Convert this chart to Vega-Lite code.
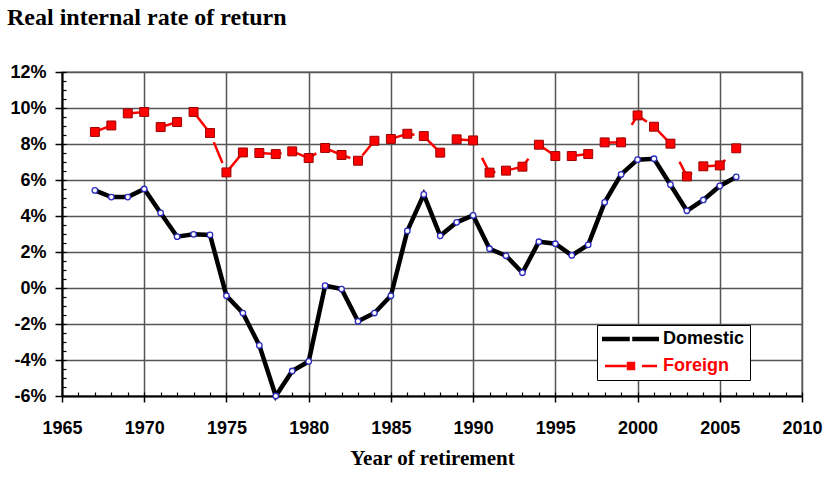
{
  "$schema": "https://vega.github.io/schema/vega-lite/v6.json",
  "width": 740,
  "height": 324,
  "autosize": {"type": "none"},
  "padding": {"left": 62, "top": 72, "right": 33, "bottom": 88},
  "background": "white",
  "title": {"text": "Real internal rate of return", "anchor": "start", "frame": "group", "dx": -55, "offset": 33, "font": "Liberation Serif", "fontSize": 24, "fontWeight": "bold", "color": "black"},
  "config": {"view": {"stroke": "#8c8c8c", "strokeWidth": 1.5}},
  "data": {"values": [
    {"year": 1967, "series": "Domestic", "value": 5.42},
    {"year": 1968, "series": "Domestic", "value": 5.05},
    {"year": 1969, "series": "Domestic", "value": 5.05},
    {"year": 1970, "series": "Domestic", "value": 5.50},
    {"year": 1971, "series": "Domestic", "value": 4.17},
    {"year": 1972, "series": "Domestic", "value": 2.85},
    {"year": 1973, "series": "Domestic", "value": 2.98},
    {"year": 1974, "series": "Domestic", "value": 2.95},
    {"year": 1975, "series": "Domestic", "value": -0.43},
    {"year": 1976, "series": "Domestic", "value": -1.39},
    {"year": 1977, "series": "Domestic", "value": -3.19},
    {"year": 1978, "series": "Domestic", "value": -6.0},
    {"year": 1979, "series": "Domestic", "value": -4.61},
    {"year": 1980, "series": "Domestic", "value": -4.08},
    {"year": 1981, "series": "Domestic", "value": 0.13},
    {"year": 1982, "series": "Domestic", "value": -0.06},
    {"year": 1983, "series": "Domestic", "value": -1.85},
    {"year": 1984, "series": "Domestic", "value": -1.39},
    {"year": 1985, "series": "Domestic", "value": -0.43},
    {"year": 1986, "series": "Domestic", "value": 3.17},
    {"year": 1987, "series": "Domestic", "value": 5.20},
    {"year": 1988, "series": "Domestic", "value": 2.90},
    {"year": 1989, "series": "Domestic", "value": 3.65},
    {"year": 1990, "series": "Domestic", "value": 4.03},
    {"year": 1991, "series": "Domestic", "value": 2.18},
    {"year": 1992, "series": "Domestic", "value": 1.79},
    {"year": 1993, "series": "Domestic", "value": 0.85},
    {"year": 1994, "series": "Domestic", "value": 2.57},
    {"year": 1995, "series": "Domestic", "value": 2.46},
    {"year": 1996, "series": "Domestic", "value": 1.81},
    {"year": 1997, "series": "Domestic", "value": 2.40},
    {"year": 1998, "series": "Domestic", "value": 4.76},
    {"year": 1999, "series": "Domestic", "value": 6.31},
    {"year": 2000, "series": "Domestic", "value": 7.13},
    {"year": 2001, "series": "Domestic", "value": 7.18},
    {"year": 2002, "series": "Domestic", "value": 5.74},
    {"year": 2003, "series": "Domestic", "value": 4.29},
    {"year": 2004, "series": "Domestic", "value": 4.89},
    {"year": 2005, "series": "Domestic", "value": 5.67},
    {"year": 2006, "series": "Domestic", "value": 6.17},
    {"year": 1967, "series": "Foreign", "value": 8.67},
    {"year": 1968, "series": "Foreign", "value": 9.03},
    {"year": 1969, "series": "Foreign", "value": 9.70},
    {"year": 1970, "series": "Foreign", "value": 9.78},
    {"year": 1971, "series": "Foreign", "value": 8.94},
    {"year": 1972, "series": "Foreign", "value": 9.22},
    {"year": 1973, "series": "Foreign", "value": 9.78},
    {"year": 1974, "series": "Foreign", "value": 8.61},
    {"year": 1975, "series": "Foreign", "value": 6.42},
    {"year": 1976, "series": "Foreign", "value": 7.53},
    {"year": 1977, "series": "Foreign", "value": 7.50},
    {"year": 1978, "series": "Foreign", "value": 7.44},
    {"year": 1979, "series": "Foreign", "value": 7.59},
    {"year": 1980, "series": "Foreign", "value": 7.22},
    {"year": 1981, "series": "Foreign", "value": 7.78},
    {"year": 1982, "series": "Foreign", "value": 7.39},
    {"year": 1983, "series": "Foreign", "value": 7.07},
    {"year": 1984, "series": "Foreign", "value": 8.18},
    {"year": 1985, "series": "Foreign", "value": 8.28},
    {"year": 1986, "series": "Foreign", "value": 8.57},
    {"year": 1987, "series": "Foreign", "value": 8.44},
    {"year": 1988, "series": "Foreign", "value": 7.52},
    {"year": 1989, "series": "Foreign", "value": 8.26},
    {"year": 1990, "series": "Foreign", "value": 8.20},
    {"year": 1991, "series": "Foreign", "value": 6.41},
    {"year": 1992, "series": "Foreign", "value": 6.52},
    {"year": 1993, "series": "Foreign", "value": 6.74},
    {"year": 1994, "series": "Foreign", "value": 7.96},
    {"year": 1995, "series": "Foreign", "value": 7.33},
    {"year": 1996, "series": "Foreign", "value": 7.33},
    {"year": 1997, "series": "Foreign", "value": 7.44},
    {"year": 1998, "series": "Foreign", "value": 8.09},
    {"year": 1999, "series": "Foreign", "value": 8.09},
    {"year": 2000, "series": "Foreign", "value": 9.59},
    {"year": 2001, "series": "Foreign", "value": 8.96},
    {"year": 2002, "series": "Foreign", "value": 8.02},
    {"year": 2003, "series": "Foreign", "value": 6.20},
    {"year": 2004, "series": "Foreign", "value": 6.76},
    {"year": 2005, "series": "Foreign", "value": 6.81},
    {"year": 2006, "series": "Foreign", "value": 7.76}
  ]},
  "layer": [
    {
      "transform": [{"filter": "datum.series === 'Domestic'"}],
      "mark": {"type": "line", "color": "black", "strokeWidth": 4.5, "strokeJoin": "miter"},
      "encoding": {
        "x": {"field": "year", "type": "quantitative",
          "scale": {"domain": [1965, 2010], "nice": false, "zero": false},
          "axis": {"orient": "bottom", "values": [1965, 1970, 1975, 1980, 1985, 1990, 1995, 2000, 2005, 2010], "format": "d",
            "title": "Year of retirement", "grid": true, "gridColor": "#555555", "gridWidth": 1.5,
            "tickSize": 6, "tickColor": "black", "tickWidth": 1.5, "domainColor": "black", "domainWidth": 2,
            "labelFont": "Liberation Sans", "labelFontSize": 18, "labelFontWeight": "bold", "labelColor": "black",
            "labelPadding": 17, "labelFlush": false, "labelOverlap": false,
            "titleFont": "Liberation Serif", "titleFontSize": 21, "titleFontWeight": "bold", "titleColor": "black", "titlePadding": 10}},
        "y": {"field": "value", "type": "quantitative",
          "scale": {"domain": [-6, 12], "nice": false, "zero": false},
          "axis": {"orient": "left", "values": [-6, -4, -2, 0, 2, 4, 6, 8, 10, 12], "labelExpr": "datum.value + '%'",
            "title": null, "grid": true, "gridColor": "#555555", "gridWidth": 1.5,
            "tickSize": 7, "tickColor": "black", "tickWidth": 1.5, "domainColor": "black", "domainWidth": 2,
            "labelFont": "Liberation Sans", "labelFontSize": 18, "labelFontWeight": "bold", "labelColor": "black",
            "labelPadding": 9, "labelFlush": false, "labelOverlap": false}}
      }
    },
    {
      "transform": [{"filter": "datum.series === 'Foreign'"}],
      "mark": {"type": "line", "color": "#ff0000", "strokeWidth": 2.5, "strokeDash": [22.5, 15]},
      "encoding": {
        "x": {"field": "year", "type": "quantitative", "axis": null},
        "y": {"field": "value", "type": "quantitative", "axis": null}
      }
    },
    {
      "transform": [{"filter": "datum.series === 'Domestic'"}],
      "mark": {"type": "point", "shape": "circle", "filled": true, "fill": "white", "stroke": "#2b2bc0", "strokeWidth": 1.3, "size": 30, "opacity": 1},
      "encoding": {
        "x": {"field": "year", "type": "quantitative",
          "axis": {"orient": "bottom", "values": [1965,1966,1967,1968,1969,1970,1971,1972,1973,1974,1975,1976,1977,1978,1979,1980,1981,1982,1983,1984,1985,1986,1987,1988,1989,1990,1991,1992,1993,1994,1995,1996,1997,1998,1999,2000,2001,2002,2003,2004,2005,2006,2007,2008,2009,2010],
            "labels": false, "grid": false, "domain": false, "tickSize": -4, "tickColor": "black", "tickWidth": 1.2, "title": null}},
        "y": {"field": "value", "type": "quantitative",
          "axis": {"orient": "left", "values": [-6,-5.5,-5,-4.5,-4,-3.5,-3,-2.5,-2,-1.5,-1,-0.5,0,0.5,1,1.5,2,2.5,3,3.5,4,4.5,5,5.5,6,6.5,7,7.5,8,8.5,9,9.5,10,10.5,11,11.5,12],
            "labels": false, "grid": false, "domain": false, "tickSize": -4, "tickColor": "black", "tickWidth": 1.2, "title": null}}
      }
    },
    {
      "transform": [{"filter": "datum.series === 'Foreign'"}],
      "mark": {"type": "point", "shape": "square", "filled": true, "fill": "#ff0000", "stroke": "#9a0000", "strokeWidth": 1, "size": 80, "opacity": 1},
      "encoding": {
        "x": {"field": "year", "type": "quantitative", "axis": null},
        "y": {"field": "value", "type": "quantitative", "axis": null}
      }
    },
    {
      "mark": {"type": "point", "filled": true, "opacity": 0},
      "encoding": {
        "x": {"field": "year", "type": "quantitative", "axis": null},
        "y": {"field": "value", "type": "quantitative", "axis": null},
        "fill": {"field": "series", "type": "nominal",
          "scale": {"domain": ["Domestic", "Foreign"], "range": ["white", "#ff0000"]},
          "legend": {"title": null, "orient": "none", "legendX": 535, "legendY": 253, "strokeColor": "black", "fillColor": "white", "padding": 5,
            "symbolSize": 100, "symbolStrokeWidth": 3, "symbolOffset": 20, "labelOffset": 23, "rowPadding": 9, "symbolOpacity": 1,
            "labelFont": "Liberation Sans", "labelFontSize": 18, "labelFontWeight": "bold", "labelColor": "black",
            "encode": {"labels": {"update": {"fill": {"signal": "datum.label === 'Foreign' ? '#ff0000' : '#000000'"}}},
                       "symbols": {"update": {"strokeWidth": {"signal": "datum.label === 'Foreign' ? 2.5 : 4.5"}}}}}},
        "stroke": {"field": "series", "type": "nominal",
          "scale": {"domain": ["Domestic", "Foreign"], "range": ["black", "#ff0000"]},
          "legend": {"title": null, "orient": "none", "legendX": 535, "legendY": 253, "strokeColor": "black", "fillColor": "white", "padding": 5,
            "symbolSize": 100, "symbolStrokeWidth": 3, "symbolOffset": 20, "labelOffset": 23, "rowPadding": 9, "symbolOpacity": 1,
            "labelFont": "Liberation Sans", "labelFontSize": 18, "labelFontWeight": "bold", "labelColor": "black"}},
        "shape": {"field": "series", "type": "nominal",
          "scale": {"domain": ["Domestic", "Foreign"], "range": ["M-5.8,0H-0.25M0.25,0H5.6", "M-5.2,0H-0.9M-0.6,-0.6H0.6V0.6H-0.6ZM2.2,0H5.2"]},
          "legend": {"title": null, "orient": "none", "legendX": 535, "legendY": 253, "strokeColor": "black", "fillColor": "white", "padding": 5,
            "symbolSize": 100, "symbolStrokeWidth": 3, "symbolOffset": 20, "labelOffset": 23, "rowPadding": 9, "symbolOpacity": 1,
            "labelFont": "Liberation Sans", "labelFontSize": 18, "labelFontWeight": "bold", "labelColor": "black"}}
      }
    }
  ],
  "resolve": {"axis": {"x": "independent", "y": "independent"}}
}
